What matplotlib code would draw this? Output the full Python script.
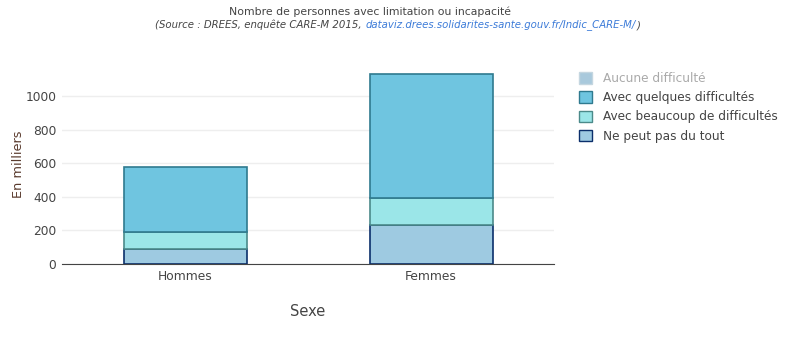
import matplotlib.pyplot as plt
from matplotlib.patches import Patch
import numpy as np

# data (thousands of people)
categories = ["Hommes", "Femmes"]
ne_peut_pas = [89, 230]
beaucoup = [101, 165]
quelques = [385, 736]

plt.rcParams["font.family"] = ["DejaVu Sans"]

fig = plt.figure(figsize=(8.07, 3.39), dpi=100)
ax = fig.add_axes([62 / 807, 75 / 339, 492 / 807, 200 / 339])

x = np.arange(len(categories))
w = 0.5
bottom = np.zeros(len(categories))
series = [
    (ne_peut_pas, "#9ecae1", "#0b2f6b"),
    (beaucoup, "#9be6e8", "#4b8a8a"),
    (quelques, "#6fc5e0", "#2f7a8f"),
]
for vals, fc, ec in series:
    ax.bar(x, vals, w, bottom=bottom, color=fc, edgecolor=ec, linewidth=1.2, zorder=3)
    bottom += np.array(vals)

ax.set_xlim(-0.5, 1.5)
ax.set_ylim(0, 1190)
ax.set_yticks([0, 200, 400, 600, 800, 1000])
ax.set_xticks(x)
ax.set_xticklabels(categories)
ax.tick_params(axis="both", length=0, labelsize=8.8, colors="#444444", pad=4)
ax.yaxis.grid(True, color="#eeeeee", linewidth=1, zorder=0)
for s in ["top", "right", "left"]:
    ax.spines[s].set_visible(False)
ax.spines["bottom"].set_color("#444444")
ax.spines["bottom"].set_zorder(4)

fig.text(18 / 807, 1 - 164 / 339, "En milliers", fontsize=9.3, color="#5a3b2e",
         rotation=90, ha="center", va="center")
fig.text(308 / 807, 1 - 311 / 339, "Sexe", fontsize=10.5, color="#444444", ha="center", va="center")

# titles
fig.text(370 / 807, 1 - 12 / 339, "Nombre de personnes avec limitation ou incapacité",
         fontsize=7.8, color="#444444", ha="center", va="center")

# source line: grey italic text, then the link in blue, then the closing bracket
renderer = fig.canvas.get_renderer()
parts = [("(Source : DREES, enquête CARE-M 2015, ", "#444444"),
         ("dataviz.drees.solidarites-sante.gouv.fr/Indic_CARE-M/", "#3c7bd8"),
         (")", "#444444")]
xpos = 155
for txt, col in parts:
    t = fig.text(xpos / 807, 1 - 25 / 339, txt, fontsize=7.3, style="italic",
                 color=col, ha="left", va="center")
    bb = t.get_window_extent(renderer)
    xpos = bb.x1 + 1

handles = [
    Patch(facecolor="#a9c9dc", edgecolor="#c4d6e0", label="Aucune difficulté"),
    Patch(facecolor="#6fc5e0", edgecolor="#2f7a8f", label="Avec quelques difficultés"),
    Patch(facecolor="#9be6e8", edgecolor="#4b8a8a", label="Avec beaucoup de difficultés"),
    Patch(facecolor="#9ecae1", edgecolor="#0b2f6b", label="Ne peut pas du tout"),
]
leg = fig.legend(handles=handles, loc="upper left", bbox_to_anchor=(568 / 807, 1 - 61 / 339),
                 frameon=False, fontsize=8.7, handlelength=1.1, handleheight=1.1,
                 handletextpad=0.9, labelspacing=0.52)
for i, t in enumerate(leg.get_texts()):
    t.set_color("#aaaaaa" if i == 0 else "#444444")

fig.savefig("out.png", dpi=100)
